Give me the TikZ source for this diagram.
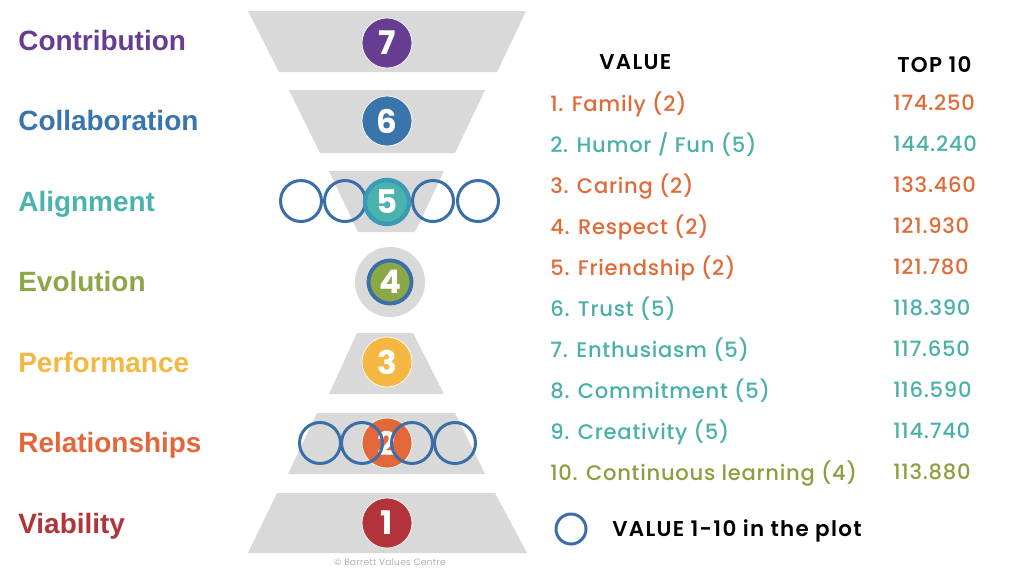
\documentclass[tikz,border=0pt]{standalone}
\usepackage{fontspec}
\setmainfont{Poppins}
\newfontfamily\labf{Liberation Sans}
\newfontfamily\popm{Poppins Medium}[LetterSpace=3.5]
\newfontfamily\pops{Poppins SemiBold}[LetterSpace=6]
\newfontfamily\popb{Poppins Bold}
\newfontfamily\popl{Poppins Light}[LetterSpace=3]
\definecolor{cSeven}{HTML}{663D91}
\definecolor{cSix}{HTML}{3A74AD}
\definecolor{cFive}{HTML}{4BB3AE}
\definecolor{cFiveRing}{HTML}{3A9AB8}
\definecolor{cFour}{HTML}{8AA845}
\definecolor{cThree}{HTML}{F4B742}
\definecolor{cTwo}{HTML}{E4673A}
\definecolor{cOne}{HTML}{B2343A}
\definecolor{tzgray}{HTML}{D9D9D9}
\definecolor{ringblue}{HTML}{3A6EA8}
\definecolor{rowor}{HTML}{E06A38}
\definecolor{rowte}{HTML}{4AB0AA}
\definecolor{rowgr}{HTML}{8C9F40}
\begin{document}
\begin{tikzpicture}[x=0.02cm,y=-0.02cm,
  tz/.style={fill=tzgray},
  num/.style={circle, minimum size=1cm, inner sep=0pt, text=white, font=\popb\fontsize{18.5}{18.5}\selectfont, draw=white, line width=0.4pt},
  ring/.style={circle, draw=ringblue, line width=1.7pt, minimum size=0.82cm, inner sep=0pt},
  lab/.style={anchor=base west, inner sep=0pt, font=\labf\bfseries\fontsize{15.9}{15.9}\selectfont},
  row/.style={anchor=base west, inner sep=0pt, font=\popm\fontsize{12}{12}\selectfont},
  hdr/.style={anchor=base west, inner sep=0pt, font=\pops\fontsize{12.2}{12.2}\selectfont, text=black}
]
\useasboundingbox (0,0) rectangle (1024,576);
\fill[white] (0,0) rectangle (1024,576);
% funnel / pyramid bands
\fill[tz] (248,11) -- (526,11) -- (497,72) -- (279,72) -- cycle;
\fill[tz] (289,90) -- (485,90) -- (455,153) -- (320,153) -- cycle;
\fill[tz] (329,171) -- (444,171) -- (415,232) -- (358,232) -- cycle;
\fill[tz] (390,282) circle[radius=35];
\fill[tz] (357,333) -- (413,333) -- (444,394) -- (329,394) -- cycle;
\fill[tz] (317,413) -- (455,413) -- (485,474) -- (288,474) -- cycle;
\fill[tz] (277,493) -- (495,493) -- (527,553) -- (248,553) -- cycle;
% level circles
\node[num, fill=cSeven] (n7) at (387,43) {7};
\node[num, fill=cSix] (n6) at (387,121) {6};
\node[ring] (r5a) at (301,201) {};
\node[ring] (r5b) at (345,201) {};
\node[ring] (r5d) at (433,201) {};
\node[ring] (r5e) at (478,201) {};
\node[num, fill=cFive, draw=cFiveRing, line width=2.5pt, minimum size=0.88cm] (n5) at (387,202) {5};
\node[num, fill=cFour, draw=ringblue, line width=2.2pt, minimum size=0.86cm] (n4) at (390,282) {4};
\node[num, fill=cThree] (n3) at (387,362) {3};
\node[num, fill=cTwo] (n2) at (387,443) {2};
\node[ring] (r2a) at (320,443) {};
\node[ring] (r2b) at (362,443) {};
\node[ring] (r2c) at (412,443) {};
\node[ring] (r2d) at (455,443) {};
\node[num, fill=cOne] (n1) at (387,523) {1};
\node[anchor=base, inner sep=0pt, text=black!38, font=\popl\fontsize{5.2}{5.2}\selectfont] (copy) at (390,565) {© Barrett Values Centre};
% level labels
\node[lab, text=cSeven] (l7) at (18,50.5) {Contribution};
\node[lab, text=cSix] (l6) at (18,130.5) {Collaboration};
\node[lab, text=cFive] (l5) at (18,211) {Alignment};
\node[lab, text=cFour] (l4) at (18,291.5) {Evolution};
\node[lab, text=cThree] (l3) at (18,372) {Performance};
\node[lab, text=cTwo] (l2) at (18,452.5) {Relationships};
\node[lab, text=cOne] (l1) at (18,533) {Viability};
% table
\node[hdr] (hv) at (599,69) {VALUE};
\node[hdr] (ht) at (897,72) {TOP 10};
\node[row, text=rowor] (v1) at (550,111.5) {1. Family (2)};
\node[row, text=rowte] (v2) at (550,152.5) {2. Humor / Fun (5)};
\node[row, text=rowor] (v3) at (550,193.5) {3. Caring (2)};
\node[row, text=rowor] (v4) at (550,234.5) {4. Respect (2)};
\node[row, text=rowor] (v5) at (550,275.5) {5. Friendship (2)};
\node[row, text=rowte] (v6) at (550,316.5) {6. Trust (5)};
\node[row, text=rowte] (v7) at (550,357.5) {7. Enthusiasm (5)};
\node[row, text=rowte] (v8) at (550,398.5) {8. Commitment (5)};
\node[row, text=rowte] (v9) at (550,439.5) {9. Creativity (5)};
\node[row, text=rowgr] (v10) at (550,480.5) {10. Continuous learning (4)};
\node[row, text=rowor] (t1) at (893,110.5) {174.250};
\node[row, text=rowte] (t2) at (893,151.5) {144.240};
\node[row, text=rowor] (t3) at (893,192.5) {133.460};
\node[row, text=rowor] (t4) at (893,233.5) {121.930};
\node[row, text=rowor] (t5) at (893,274.5) {121.780};
\node[row, text=rowte] (t6) at (893,315.5) {118.390};
\node[row, text=rowte] (t7) at (893,356.5) {117.650};
\node[row, text=rowte] (t8) at (893,397.5) {116.590};
\node[row, text=rowte] (t9) at (893,438.5) {114.740};
\node[row, text=rowgr] (t10) at (893,479.5) {113.880};
% legend
\node[circle, draw=ringblue, line width=1.7pt, minimum size=0.6cm, inner sep=0pt] (lgc) at (571,529) {};
\node[hdr] (lgt) at (612,536) {VALUE 1-10 in the plot};
\end{tikzpicture}
\end{document}
